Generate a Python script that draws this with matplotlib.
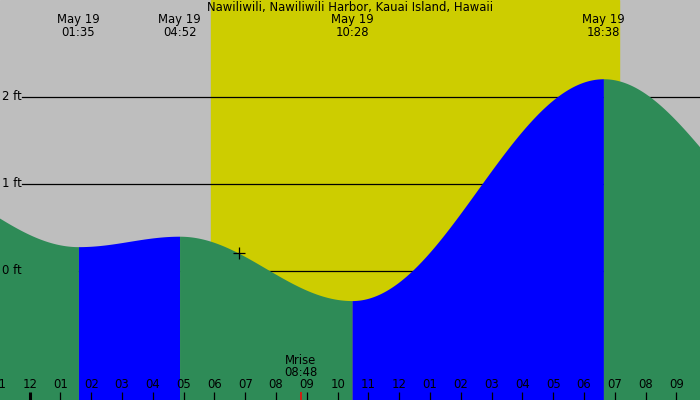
import numpy as np
import pandas as pd
import matplotlib.pyplot as plt
from matplotlib.transforms import blended_transform_factory

# tide extremes (first and last are off-chart, needed for the curve ends)
tide_times = ["2024-05-18 19:35", "2024-05-19 01:35", "2024-05-19 04:52",
              "2024-05-19 10:28", "2024-05-19 18:38", "2024-05-20 01:38"]
tide_heights = [1.13, 0.28, 0.40, -0.34, 2.21, 0.33]
shown = [1, 2, 3, 4]  # extremes labelled at top

sunrise = "05:53"
sunset = "19:08"
moonrise = "08:48"
now_time = "06:48"
title = "Nawiliwili, Nawiliwili Harbor, Kauai Island, Hawaii"
ft_levels = [0, 1, 2]

GRAY = "#bebebe"
DAY = "#cdcd00"
GREEN = "#2e8b57"
BLUE = "#0000ff"
FS = 8.4

day0 = pd.Timestamp("2024-05-19 00:00")


def hours(s):
    if len(s) == 5:
        s = "2024-05-19 " + s
    return (pd.Timestamp(s) - day0).total_seconds() / 3600.0


t_ext = np.array([hours(s) for s in tide_times])
h_ext = np.array(tide_heights)


def tide_at(t):
    # cosine curve between consecutive extremes
    i = np.searchsorted(t_ext, t) - 1
    i = np.clip(i, 0, len(t_ext) - 2)
    t0, t1 = t_ext[i], t_ext[i + 1]
    h0, h1 = h_ext[i], h_ext[i + 1]
    f = (1 - np.cos(np.pi * (t - t0) / (t1 - t0))) / 2
    return h0 + (h1 - h0) * f


px_per_h = 30.79
x0_px = 29.7
xmin = -x0_px / px_per_h
xmax = (700 - x0_px) / px_per_h
ymin = (271 - 400) / 87.0
ymax = 271 / 87.0

fig = plt.figure(figsize=(7, 4), dpi=100)
ax = fig.add_axes([0, 0, 1, 1])
ax.set_xlim(xmin, xmax)
ax.set_ylim(ymin, ymax)
ax.axis("off")
ax.add_patch(plt.Rectangle((0, 0), 1, 1, transform=ax.transAxes, color=GRAY, zorder=0))

ax.axvspan(hours(sunrise), hours(sunset), color=DAY, zorder=1)

for lv in ft_levels:
    ax.axhline(lv, xmin=22 / 700, xmax=1, color="black", lw=0.9, zorder=2)
    ax.text(2 / 700, lv, f"{lv} ft", transform=ax.get_yaxis_transform(),
            ha="left", va="center", fontsize=FS, zorder=5)

# tide fill, blue when rising, green when falling
for i in range(len(t_ext) - 1):
    a, b = max(t_ext[i], xmin - 0.1), min(t_ext[i + 1], xmax + 0.1)
    if a >= b:
        continue
    tt = np.linspace(a, b, 300)
    col = BLUE if h_ext[i + 1] > h_ext[i] else GREEN
    ax.fill_between(tt, ymin, tide_at(tt), color=col, lw=0, zorder=3)

ax.plot(hours(now_time), tide_at(hours(now_time)), marker="+", color="black",
        ms=8, mew=0.9, zorder=6)

tr = blended_transform_factory(ax.transData, ax.transAxes)
ax.text(0.5, 1 - 8 / 400, title, transform=ax.transAxes, ha="center", va="center",
        fontsize=FS, zorder=6)
for i in shown:
    lab = pd.Timestamp(tide_times[i])
    ax.text(t_ext[i], 1 - 20 / 400, lab.strftime("%b %-d"), transform=tr,
            ha="center", va="center", fontsize=FS, zorder=6)
    ax.text(t_ext[i], 1 - 32 / 400, lab.strftime("%H:%M"), transform=tr,
            ha="center", va="center", fontsize=FS, zorder=6)

# hour ticks
for h in range(-1, 22):
    lab = f"{(h % 12) or 12:02d}"
    if h == -1:
        lab = "11"
    ax.text(h, 15 / 400, lab, transform=tr, ha="center", va="center",
            fontsize=FS, zorder=6, clip_on=False)
    ax.vlines(h, 0, 8 / 400, transform=tr, color="black",
              lw=2.2 if h == 0 else 0.9, zorder=6)

mr = hours(moonrise)
ax.vlines(mr, 0, 8 / 400, transform=tr, color="red", lw=1.1, zorder=7)
ax.text(mr, 39 / 400, "Mrise", transform=tr, ha="center", va="center", fontsize=FS, zorder=6)
ax.text(mr, 27 / 400, moonrise, transform=tr, ha="center", va="center", fontsize=FS, zorder=6)

fig.savefig("out.png", dpi=100)
